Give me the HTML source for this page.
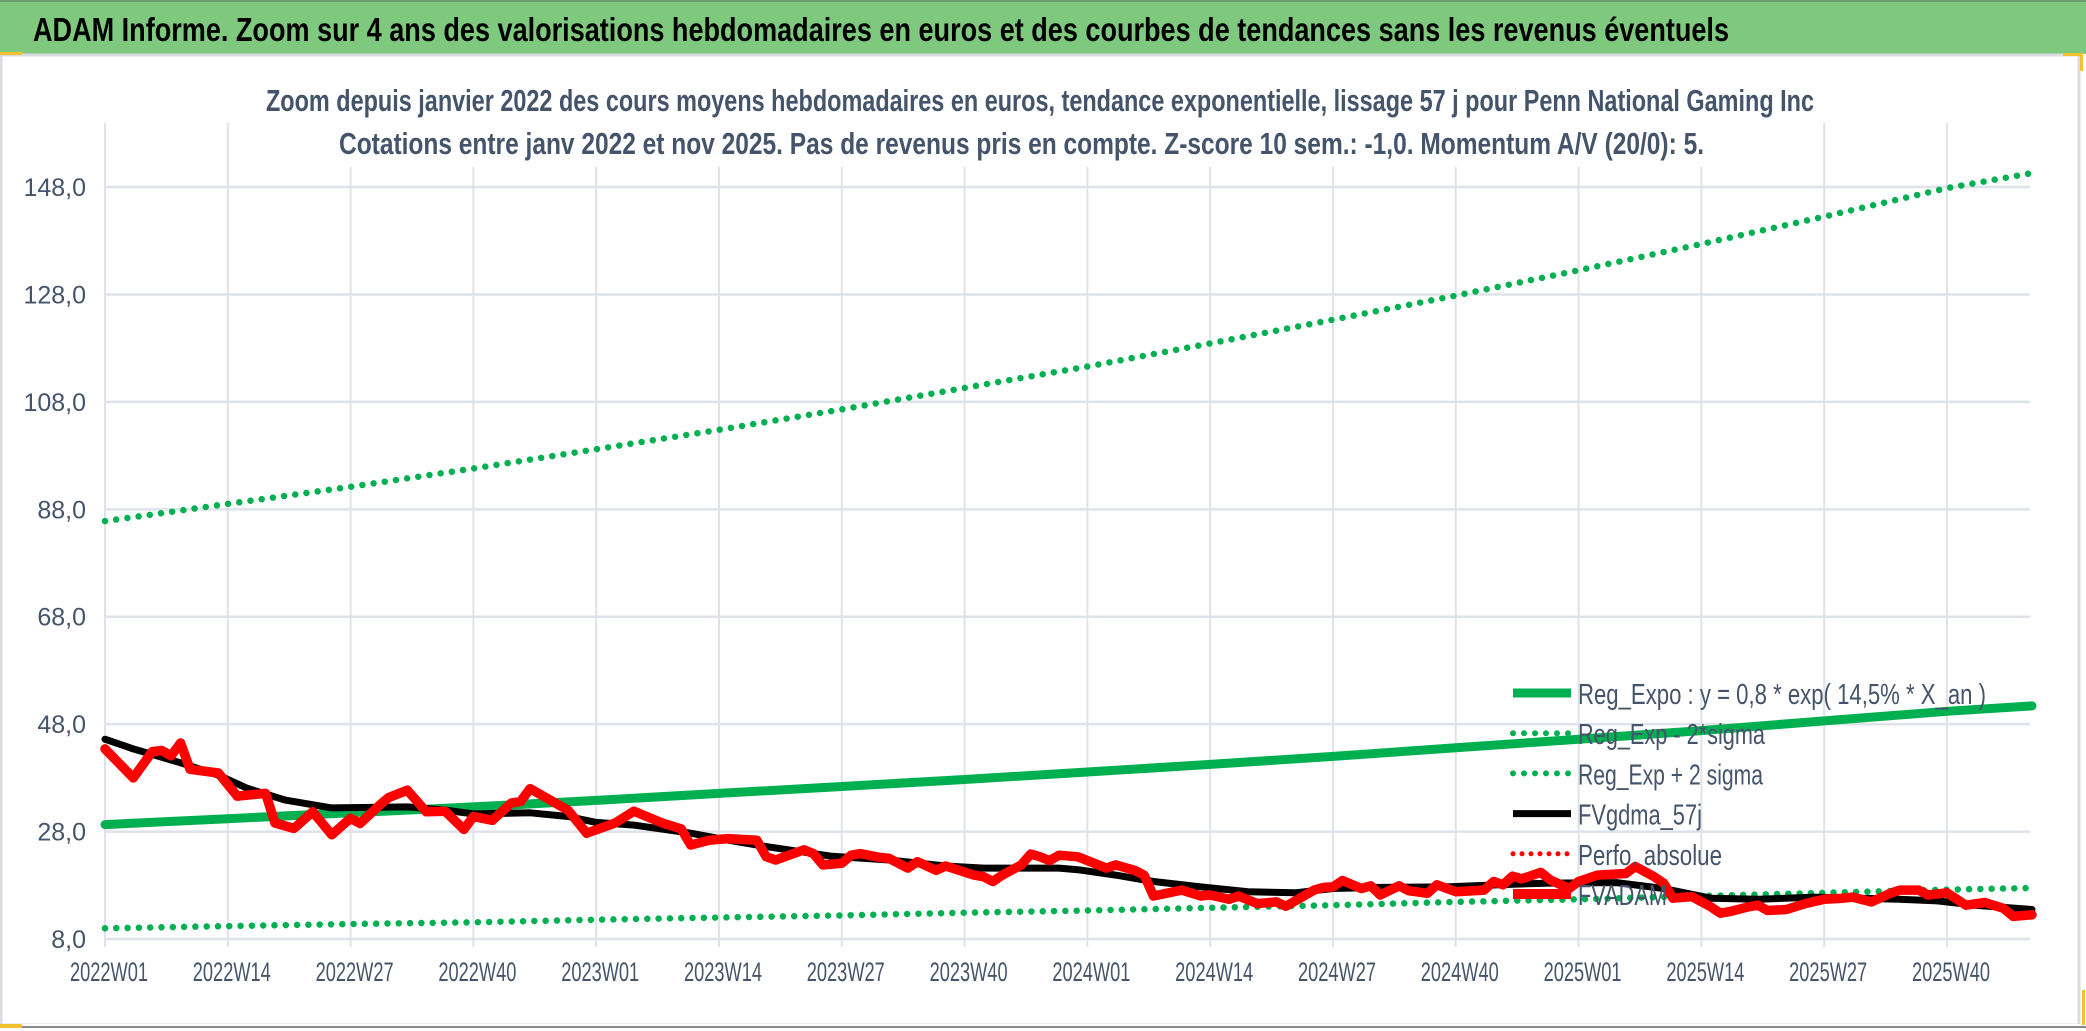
<!DOCTYPE html>
<html><head><meta charset="utf-8">
<style>
html,body{margin:0;padding:0;background:#fff;width:2086px;height:1031px;overflow:hidden}
svg{display:block;font-family:"Liberation Sans",sans-serif}
</style></head>
<body>
<svg id="chart" width="2086" height="1031" viewBox="0 0 2086 1031" xmlns="http://www.w3.org/2000/svg">
  <rect x="0" y="0" width="2086" height="54" fill="#7fc97f"/>
  <rect x="0" y="0" width="2086" height="2" fill="#6d9b6d"/>
  <text x="33" y="41" font-size="33" font-weight="bold" fill="#000" textLength="1696" lengthAdjust="spacingAndGlyphs">ADAM Informe. Zoom sur 4 ans des valorisations hebdomadaires en euros et des courbes de tendances sans les revenus éventuels</text>
  <rect x="1" y="55" width="2078" height="970" fill="#fff" stroke="#d9dde3" stroke-width="3"/>
  <rect x="0" y="1024" width="2086" height="7" fill="#fff"/>
  <line x1="0" y1="1027" x2="2086" y2="1027" stroke="#888" stroke-width="2"/>
  <rect x="0" y="52" width="22" height="3" fill="#f2c12e"/>
  <rect x="0" y="1024" width="22" height="4" fill="#f2c12e"/>
  <rect x="2063" y="53" width="20" height="3" fill="#f2c12e"/>
  <rect x="2080" y="53" width="3" height="18" fill="#f2c12e"/>
  <rect x="2082" y="990" width="3" height="35" fill="#f2c12e"/>
  <g id="grid"></g>
  <text x="266" y="111" font-size="31" font-weight="bold" fill="#44546a" textLength="1548" lengthAdjust="spacingAndGlyphs">Zoom depuis janvier 2022 des cours moyens hebdomadaires en euros, tendance exponentielle, lissage 57 j pour Penn National Gaming Inc</text>
  <text x="339" y="154" font-size="31" font-weight="bold" fill="#44546a" textLength="1365" lengthAdjust="spacingAndGlyphs">Cotations entre janv 2022 et nov 2025. Pas de revenus pris en compte. Z-score 10 sem.: -1,0. Momentum A/V (20/0): 5.</text>
  <g id="yaxis"></g>
  <g id="xaxis"></g>
  <g id="series"></g>
  <g id="legend"></g>
</svg>
<script>
const yTicks = [8, 28, 48, 68, 88, 108, 128, 148];
const yTickLabels = ["8,0", "28,0", "48,0", "68,0", "88,0", "108,0", "128,0", "148,0"];
const xTickIdx = [0, 13, 26, 39, 52, 65, 78, 91, 104, 117, 130, 143, 156, 169, 182, 195];
const xTickLabels = ["2022W01","2022W14","2022W27","2022W40","2023W01","2023W14","2023W27","2023W40","2024W01","2024W14","2024W27","2024W40","2025W01","2025W14","2025W27","2025W40"];
const regIdx = [0, 13, 26, 39, 52, 65, 78, 91, 104, 117, 130, 143, 156, 169, 182, 195, 204];
const regMid = [29.3,30.4,31.5,32.6,33.8,35.1,36.4,37.7,39.1,40.5,42.0,43.6,45.2,46.8,48.6,50.4,51.4];
const regUp = [85.8,89.0,92.2,95.6,99.2,102.8,106.6,110.6,114.6,118.9,123.3,127.8,132.5,137.4,142.5,147.8,150.6];
const regLow = [10.0,10.4,10.8,11.1,11.6,12.0,12.4,12.9,13.3,13.8,14.3,14.9,15.4,16.0,16.6,17.2,17.5];
const redIdx = [0,3,5,6,7,8,9,12,14,17,18,20,22,24,26,27,29,30,32,34,36,38,39,41,43,44,45,49,51,54,56,59,61,62,64,66,69,70,71,74,75,76,78,79,80,82,83,85,86,88,89,92,93,94,95,97,98,99,100,101,103,106,107,109,110,111,114,116,117,119,120,122,124,125,128,129,130,131,133,134,135,137,138,140,141,143,146,147,148,149,150,152,153,155,156,158,161,162,164,165,166,168,170,171,172,174,175,176,178,180,182,184,185,187,189,190,192,193,195,197,199,201,202,204];
const redVal = [43.4,38.0,42.9,43.1,42.1,44.5,39.6,38.9,34.6,35.1,29.6,28.6,31.7,27.4,30.5,29.5,32.8,34.3,35.7,31.7,31.8,28.4,30.8,30.1,33.3,33.6,36.0,32.0,27.7,29.6,31.8,29.6,28.5,25.5,26.4,26.7,26.4,23.3,22.7,24.6,23.9,21.8,22.1,23.6,23.9,23.2,23.0,21.2,22.4,20.8,21.6,19.9,19.6,18.7,19.9,21.8,23.8,23.3,22.6,23.6,23.3,21.2,21.8,20.8,19.9,16.0,17.1,16.0,16.2,15.4,16.0,14.6,14.9,14.1,17.1,17.6,17.7,18.9,17.4,17.9,16.2,17.9,17.0,16.5,18.1,16.8,17.1,18.7,18.1,19.7,19.2,20.4,19.0,17.4,18.7,19.9,20.2,21.5,19.6,18.4,15.6,15.9,14.0,12.8,13.1,14.0,14.3,13.3,13.5,14.6,15.4,15.6,15.8,14.9,16.5,17.1,17.1,16.2,16.6,14.3,14.8,13.7,12.2,12.5];
const blackIdx = [0,3,8,12,15,19,24,32,36,39,45,49,52,56,62,66,70,77,83,89,93,101,103,107,111,116,121,126,130,135,142,149,153,160,165,170,175,181,190,194,198,204];
const blackVal = [45.2,43.4,40.8,38.5,36.1,33.9,32.4,32.6,32.0,31.3,31.5,30.8,29.7,29.2,27.7,26.4,25.2,23.4,22.7,21.6,21.2,21.2,20.9,19.9,18.7,17.7,16.8,16.6,17.4,17.6,17.7,18.2,18.4,18.5,17.4,15.6,15.4,15.8,15.4,15.1,14.3,13.5];
const legendLabels = ["Reg_Expo : y = 0,8 * exp( 14,5% *  X_an )","Reg_Exp - 2*sigma","Reg_Exp + 2 sigma","FVgdma_57j","Perfo. absolue","FVADAM"];

const NS = "http://www.w3.org/2000/svg";
const X0 = 105, DX = 9.446, Y8 = 939, PXU = 5.371, XR = 2030;
function xs(i){ return X0 + i * DX; }
function ys(v){ return Y8 - (v - 8) * PXU; }
function mk(tag, attrs, parent){ const e = document.createElementNS(NS, tag); for (const k in attrs) e.setAttribute(k, attrs[k]); parent.appendChild(e); return e; }

const grid = document.getElementById('grid');
yTicks.forEach(v => {
  const l = mk('line', {x1: X0, x2: XR, y1: ys(v), y2: ys(v), stroke: '#dfe3e9', 'stroke-width': 2.5}, grid);
  
  
});
xTickIdx.forEach(i => {
  const x = xs(i);
  const top = (x > 330 && x < 1712) ? 167 : 123;
  const l = mk('line', {x1: x, x2: x, y1: top, y2: 947, stroke: '#dfe3e9', 'stroke-width': 2}, grid);
  
  
});
const yax = document.getElementById('yaxis');
yTicks.forEach((v, k) => {
  const t = mk('text', {x: 86, y: ys(v) + 9, 'text-anchor': 'end', 'font-size': 25, fill: '#44546a'}, yax);
  t.textContent = yTickLabels[k];
  
  
});
const xax = document.getElementById('xaxis');
xTickIdx.forEach((i, k) => {
  const t = mk('text', {x: xs(i) + 4, y: 981, 'text-anchor': 'middle', 'font-size': 27, fill: '#44546a', textLength: 78, lengthAdjust: 'spacingAndGlyphs'}, xax);
  t.textContent = xTickLabels[k];
  
  
});
function pts(idx, vals){ return idx.map((i, k) => xs(i).toFixed(1) + ',' + ys(vals[k]).toFixed(1)).join(' '); }
const ser = document.getElementById('series');
const dotted = {fill: 'none', stroke: '#00b050', 'stroke-width': 6.5, 'stroke-linecap': 'round', 'stroke-dasharray': '0 11.3'};
const up = mk('polyline', Object.assign({points: pts(regIdx, regUp)}, dotted), ser);


const low = mk('polyline', Object.assign({points: pts(regIdx, regLow)}, dotted), ser);


const mid = mk('polyline', {points: pts(regIdx, regMid), fill: 'none', stroke: '#00b050', 'stroke-width': 9, 'stroke-linejoin': 'round', 'stroke-linecap': 'round'}, ser);


const blk = mk('polyline', {points: pts(blackIdx, blackVal), fill: 'none', stroke: '#000', 'stroke-width': 7, 'stroke-linejoin': 'round', 'stroke-linecap': 'round'}, ser);


const red = mk('polyline', {points: pts(redIdx, redVal), fill: 'none', stroke: '#ff0000', 'stroke-width': 9.5, 'stroke-linejoin': 'round', 'stroke-linecap': 'round'}, ser);



const leg = document.getElementById('legend');
const styles = [
  {stroke: '#00b050', 'stroke-width': 9},
  {stroke: '#00b050', 'stroke-width': 6, 'stroke-linecap': 'round', 'stroke-dasharray': '0 11'},
  {stroke: '#00b050', 'stroke-width': 6, 'stroke-linecap': 'round', 'stroke-dasharray': '0 11'},
  {stroke: '#000', 'stroke-width': 7},
  {stroke: '#ff0000', 'stroke-width': 5, 'stroke-linecap': 'round', 'stroke-dasharray': '0 9'},
  {stroke: '#ff0000', 'stroke-width': 10}
];
const widths = [408, 187, 185, 124, 144, 89];
legendLabels.forEach((lab, k) => {
  const y = 693 + k * 40.2;
  const g = mk('g', {}, leg);
  
  
  mk('line', Object.assign({x1: 1513, x2: 1571, y1: y, y2: y}, styles[k]), g);
  const t = mk('text', {x: 1578, y: y + 11, 'font-size': 29, fill: '#44546a', textLength: widths[k], lengthAdjust: 'spacingAndGlyphs'}, g);
  t.textContent = lab;
});
</script>
</body></html>
